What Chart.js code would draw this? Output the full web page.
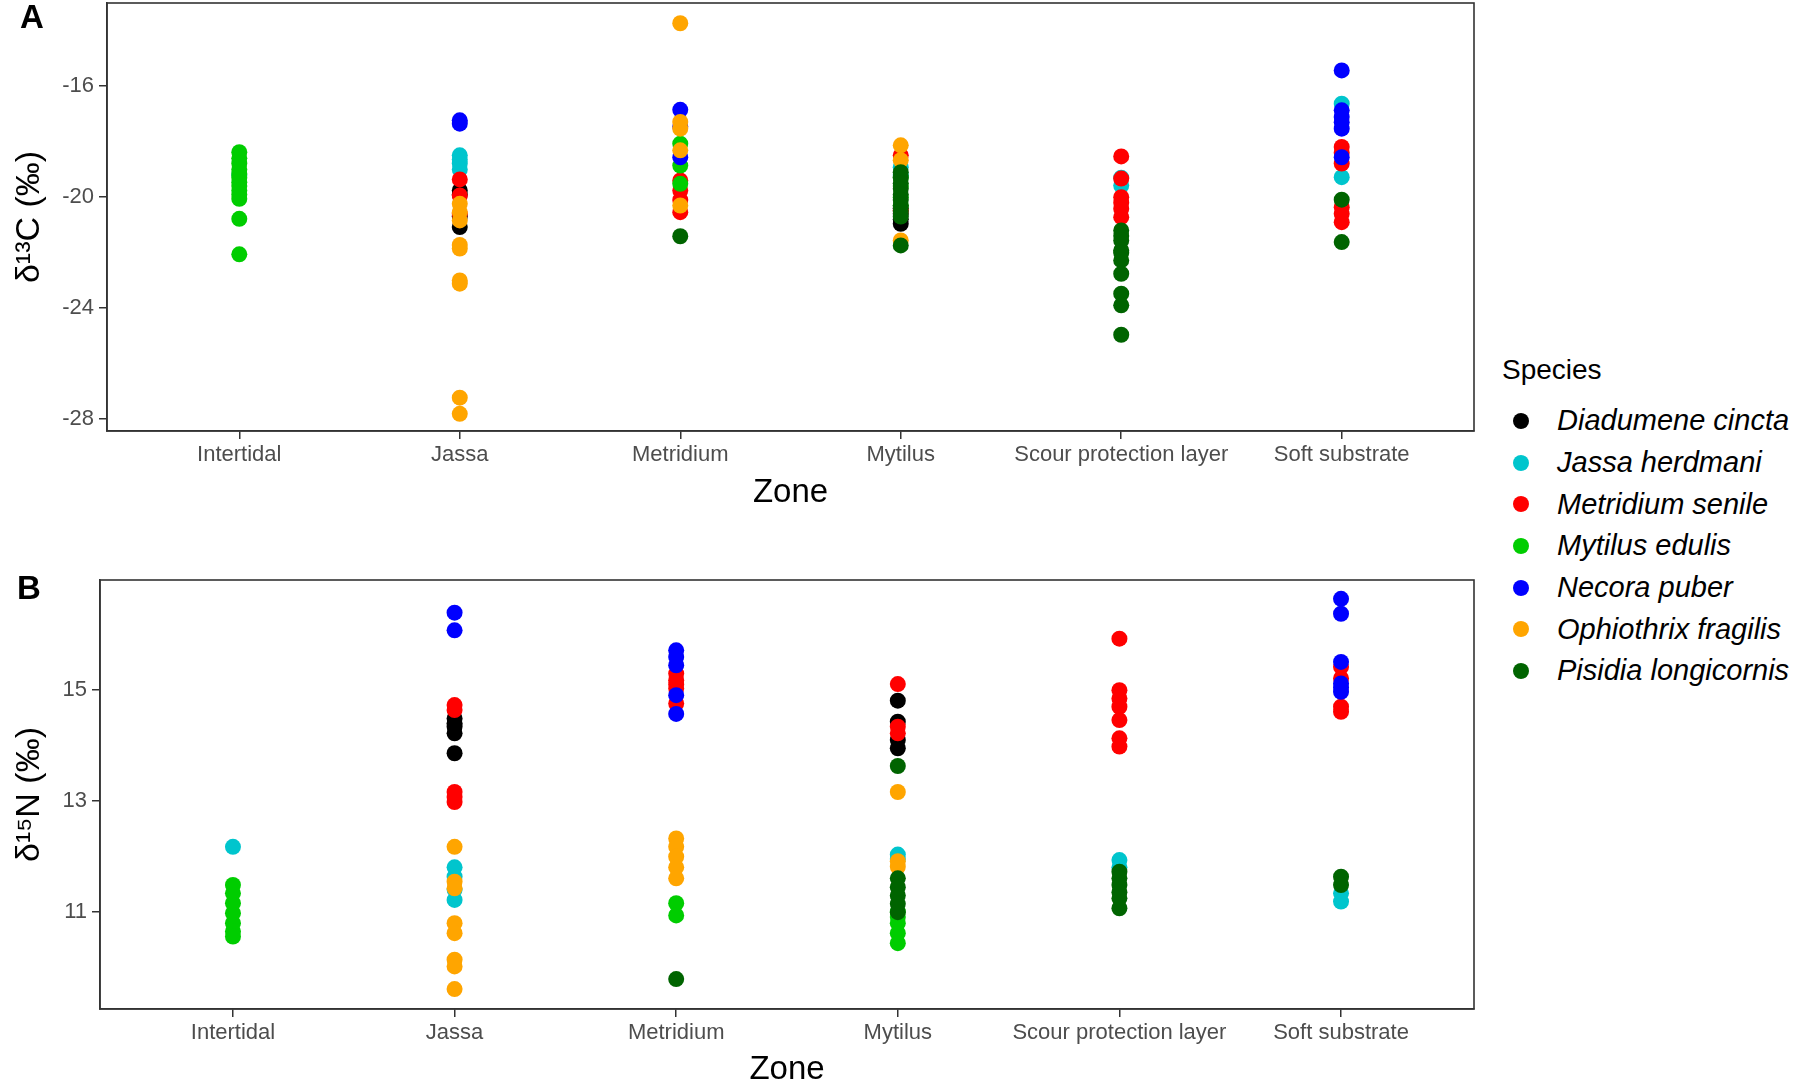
<!DOCTYPE html>
<html>
<head>
<meta charset="utf-8">
<script src="https://cdn.jsdelivr.net/npm/chart.js@4.4.1/dist/chart.umd.min.js"></script>
<style>
  html, body { margin: 0; padding: 0; width: 1800px; height: 1081px; overflow: hidden; background: #fff; }
  body { position: relative; font-family: "Liberation Sans", Arial, sans-serif; }
  canvas { position: absolute; left: 0; }
  #chartA { top: 0; }
  #chartB { top: 540px; }
  .panel-tag { position: absolute; font-weight: bold; font-size: 33px; line-height: 36px; color: #000; }
  #legend { position: absolute; left: 1502px; top: 350px; color: #000; }
  #legend .title { font-size: 28px; line-height: 40px; margin-bottom: 10px; }
  #legend .item { height: 41.7px; display: flex; align-items: center; font-size: 29px; font-style: italic; }
  #legend .dot { width: 16px; height: 16px; border-radius: 50%; margin-left: 11px; margin-right: 28px; }
</style>
</head>
<body>
<canvas id="chartA" width="1490" height="540"></canvas>
<canvas id="chartB" width="1490" height="560"></canvas>
<div class="panel-tag" style="left:20px;top:-1px">A</div>
<div class="panel-tag" style="left:17px;top:570px">B</div>
<div id="legend"></div>

<script>
// categories
const zones = ["Intertidal", "Jassa", "Metridium", "Mytilus", "Scour protection layer", "Soft substrate"];
const species = ["Diadumene cincta", "Jassa herdmani", "Metridium senile", "Mytilus edulis",
                 "Necora puber", "Ophiothrix fragilis", "Pisidia longicornis"];
const speciesColors = ["#000000", "#00C5CD", "#FF0000", "#00CD00", "#0000FF", "#FFA500", "#006400"];

// tick labels
const yTicksC = [-28, -24, -20, -16];
const yTicksN = [11, 13, 15];

// delta 13C values: [zone index, value]
const c13Diadumene = [[1,-19.76],[1,-19.9],[1,-20.7],[1,-21.08],[3,-20.4],[3,-20.6],[3,-20.8],[3,-20.96]];
const c13Jassa = [[0,-19.2],[1,-18.49],[1,-18.64],[1,-18.79],[1,-19.0],[3,-18.92],[3,-19.2],
                  [4,-19.3],[4,-19.58],[5,-16.63],[5,-19.28]];
const c13Metridium = [[1,-19.36],[1,-19.94],[1,-20.6],[2,-19.4],[2,-19.76],[2,-20.1],[2,-20.54],
                      [3,-18.49],[3,-20.48],[4,-18.53],[4,-19.33],[4,-20.0],[4,-20.2],[4,-20.42],[4,-20.72],
                      [5,-18.19],[5,-18.4],[5,-18.79],[5,-20.36],[5,-20.6],[5,-20.9]];
const c13Mytilus = [[0,-18.38],[0,-18.6],[0,-18.79],[0,-19.0],[0,-19.16],[0,-19.3],[0,-19.46],[0,-19.6],
                    [0,-19.76],[0,-19.9],[0,-20.06],[0,-20.78],[0,-22.06],
                    [2,-18.07],[2,-18.86],[2,-19.52],[3,-19.3],[3,-19.6],[3,-20.0],[3,-20.3]];
const c13Necora = [[1,-17.23],[1,-17.35],[2,-16.85],[2,-17.45],[2,-18.56],
                   [5,-15.43],[5,-16.87],[5,-17.11],[5,-17.3],[5,-17.53],[5,-18.56]];
const c13Ophiothrix = [[1,-20.24],[1,-20.54],[1,-20.84],[1,-21.72],[1,-21.85],[1,-23.0],[1,-23.12],[1,-27.23],[1,-27.81],
                       [2,-13.73],[2,-17.29],[2,-17.53],[2,-18.31],[2,-20.3],[3,-18.13],[3,-18.67],[3,-21.56]];
const c13Pisidia = [[2,-21.41],[3,-19.1],[3,-19.3],[3,-19.5],[3,-19.7],[3,-19.9],[3,-20.1],[3,-20.3],[3,-20.5],
                    [3,-20.7],[3,-21.74],[4,-21.2],[4,-21.4],[4,-21.56],[4,-21.92],[4,-22.0],[4,-22.28],[4,-22.76],
                    [4,-23.48],[4,-23.9],[4,-24.96],[5,-20.09],[5,-21.62]];

// delta 15N values: [zone index, value]
const n15Diadumene = [[1,14.49],[1,14.4],[1,14.34],[1,14.22],[1,13.86],[3,14.81],[3,14.43],[3,14.1],[3,13.95]];
const n15Jassa = [[0,12.17],[1,11.8],[1,11.63],[1,11.4],[1,11.21],[3,12.03],[3,11.95],[4,11.93],[4,11.8],
                  [5,11.33],[5,11.18]];
const n15Metridium = [[1,14.73],[1,14.64],[1,13.16],[1,13.07],[1,12.98],[2,15.3],[2,15.18],[2,15.1],[2,15.03],[2,14.76],
                      [3,15.11],[3,14.34],[3,14.22],[4,15.93],[4,15.0],[4,14.85],[4,14.7],[4,14.46],[4,14.13],[4,13.98],
                      [5,15.42],[5,15.21],[5,14.7],[5,14.61]];
const n15Mytilus = [[0,11.48],[0,11.33],[0,11.15],[0,10.97],[0,10.79],[0,10.64],[0,10.55],[2,11.15],[2,10.93],
                    [3,11.0],[3,10.9],[3,10.79],[3,10.61],[3,10.43]];
const n15Necora = [[1,16.4],[1,16.08],[2,15.72],[2,15.6],[2,15.45],[2,14.91],[2,14.57],
                   [5,16.65],[5,16.38],[5,15.51],[5,15.12],[5,15.05],[5,14.97]];
const n15Ophiothrix = [[1,12.17],[1,11.54],[1,11.42],[1,10.79],[1,10.61],[1,10.13],[1,10.01],[1,9.6],
                       [2,12.32],[2,12.17],[2,11.99],[2,11.8],[2,11.6],[3,13.16],[3,11.91],[3,11.81]];
const n15Pisidia = [[2,9.78],[3,13.63],[3,11.6],[3,11.44],[3,11.29],[3,11.14],[3,10.99],
                    [4,11.72],[4,11.6],[4,11.48],[4,11.35],[4,11.24],[4,11.06],[5,11.63],[5,11.48]];

const c13Series = [c13Diadumene, c13Jassa, c13Metridium, c13Mytilus, c13Necora, c13Ophiothrix, c13Pisidia];
const n15Series = [n15Diadumene, n15Jassa, n15Metridium, n15Mytilus, n15Necora, n15Ophiothrix, n15Pisidia];

Chart.defaults.font.family = '"Liberation Sans", Arial, sans-serif';

// panel border drawn round the plot area, like ggplot's panel.border
const panelBox = {
  id: "panelBox",
  afterDatasetsDraw(chart) {
    const { ctx, chartArea: a } = chart;
    ctx.save();
    ctx.strokeStyle = "#333333";
    ctx.lineWidth = 1.6;
    ctx.strokeRect(a.left, a.top, a.right - a.left, a.bottom - a.top);
    ctx.restore();
  }
};

function makeDatasets(series) {
  return series.map((pts, i) => ({
    label: species[i],
    data: pts.map(p => ({ x: p[0], y: p[1] })),
    backgroundColor: speciesColors[i],
    borderWidth: 0,
    pointRadius: 8,
    pointHoverRadius: 8,
    order: species.length - i,
    clip: false
  }));
}

function makePanel(id, series, opts) {
  const ctx = document.getElementById(id).getContext("2d");
  return new Chart(ctx, {
    type: "scatter",
    data: { datasets: makeDatasets(series) },
    options: {
      responsive: false,
      animation: false,
      events: [],
      layout: { autoPadding: false, padding: { left: 0, top: opts.top, right: 16, bottom: 0 } },
      plugins: { legend: { display: false }, tooltip: { enabled: false } },
      scales: {
        x: {
          type: "linear",
          min: -0.6,
          max: 5.6,
          afterFit: s => { s.height = opts.xHeight; s.paddingLeft = 0; s.paddingRight = 0; },
          afterBuildTicks: s => { s.ticks = zones.map((z, i) => ({ value: i })); },
          ticks: {
            autoSkip: false,
            maxRotation: 0,
            padding: 3,
            color: "#4D4D4D",
            font: { size: 22 },
            callback: v => zones[v]
          },
          grid: { drawOnChartArea: false, drawTicks: true, tickLength: 8, color: "#333333", lineWidth: 1.5 },
          border: { display: true, color: "#333333", width: 1.6 },
          title: {
            display: true,
            text: "Zone",
            color: "#000",
            font: { size: 33 },
            padding: { top: 0, bottom: opts.titlePad }
          }
        },
        y: {
          type: "linear",
          min: opts.yMin,
          max: opts.yMax,
          afterFit: s => { s.width = opts.yWidth; s.paddingTop = 0; s.paddingBottom = 0; },
          afterBuildTicks: s => { s.ticks = opts.yTicks.map(v => ({ value: v })); },
          ticks: {
            padding: 5,
            color: "#4D4D4D",
            font: { size: 22 },
            callback: v => String(v)
          },
          grid: { drawOnChartArea: false, drawTicks: true, tickLength: 8, color: "#333333", lineWidth: 1.5 },
          border: { display: true, color: "#333333", width: 1.6 },
          title: {
            display: true,
            text: opts.yTitle,
            color: "#000",
            font: { size: 34 },
            padding: { top: 9, bottom: 0 }
          }
        }
      }
    },
    plugins: [panelBox]
  });
}

makePanel("chartA", c13Series, {
  top: 3, xHeight: 109, yWidth: 107, titlePad: 27,
  yMin: -28.43, yMax: -13.0, yTicks: yTicksC, yTitle: "δ¹³C (‰)"
});

makePanel("chartB", n15Series, {
  top: 40, xHeight: 91, yWidth: 100, titlePad: 10,
  yMin: 9.24, yMax: 16.99, yTicks: yTicksN, yTitle: "δ¹⁵N (‰)"
});

// legend
const legend = document.getElementById("legend");
legend.innerHTML = '<div class="title">Species</div>' + species.map((s, i) =>
  '<div class="item"><span class="dot" style="background:' + speciesColors[i] + '"></span>' + s + '</div>'
).join("");
</script>
</body>
</html>
